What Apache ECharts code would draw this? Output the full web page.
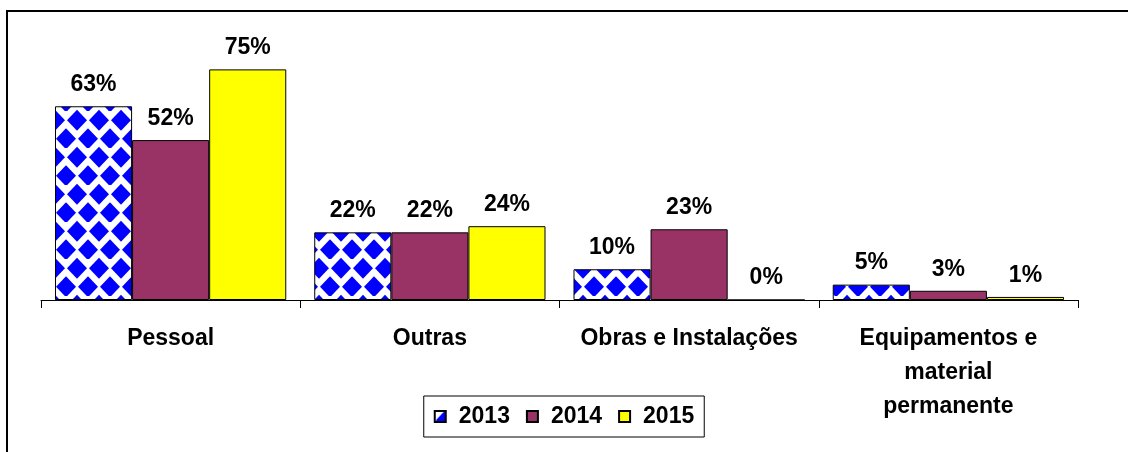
<!DOCTYPE html>
<html>
<head>
<meta charset="utf-8">
<script src="https://cdn.jsdelivr.net/npm/echarts@6/dist/echarts.min.js"></script>
<style>
  html, body { margin: 0; padding: 0; background: #fff; }
  #main { width: 1128px; height: 452px; }
</style>
</head>
<body>
<div id="main"></div>
<script>
var categories = ["Pessoal", "Outras", "Obras e Instalações", "Equipamentos e\nmaterial\npermanente"];
var years = ["2013", "2014", "2015"];
var values2013 = [63, 22, 10, 5];
var values2014 = [52, 22, 23, 3];
var values2015 = [75, 24, 0, 1];

// blue diamonds on white, like the excel fill pattern
function diamondPattern() {
  var c = document.createElement("canvas");
  c.width = 22;
  c.height = 37;
  var ctx = c.getContext("2d");
  ctx.fillStyle = "#ffffff";
  ctx.fillRect(0, 0, 22, 37);
  ctx.fillStyle = "#0000ff";
  var centers = [[11, 9.25], [0, 27.75], [22, 27.75], [11, 46.25], [11, -27.75]];
  centers.forEach(function (p) {
    ctx.beginPath();
    ctx.moveTo(p[0], p[1] - 10.5);
    ctx.lineTo(p[0] + 10, p[1]);
    ctx.lineTo(p[0], p[1] + 10.5);
    ctx.lineTo(p[0] - 10, p[1]);
    ctx.closePath();
    ctx.fill();
  });
  return c;
}

var font = "'Liberation Sans', Arial, sans-serif";
var chart = echarts.init(document.getElementById("main"));

var labelStyle = {
  show: true,
  position: "top",
  distance: 10,
  formatter: "{c}%",
  fontFamily: font,
  fontSize: 23,
  fontWeight: "bold",
  color: "#000"
};

function makeSeries(name, data, color) {
  return {
    name: name,
    type: "bar",
    data: data,
    barGap: "0%",
    barCategoryGap: "10.8%",
    itemStyle: { color: color, borderColor: "#000", borderWidth: 1 },
    label: labelStyle,
    emphasis: { disabled: true }
  };
}

var option = {
  animation: false,
  backgroundColor: "#fff",
  graphic: [
    {
      type: "rect",
      shape: { x: 7, y: 11, width: 1300, height: 600 },
      style: { fill: null, stroke: "#000", lineWidth: 2 },
      silent: true
    }
  ],
  grid: { left: 41, right: 50, top: 54, bottom: 152 },
  legend: {
    left: "center",
    top: 396,
    padding: [9, 10, 9, 10],
    itemGap: 16,
    itemWidth: 11,
    itemHeight: 11,
    icon: "rect",
    borderColor: "#000",
    borderWidth: 1,
    textStyle: {
      fontFamily: font,
      fontSize: 23,
      fontWeight: "bold",
      color: "#000",
      padding: [0, 0, 0, 8]
    },
    data: years
  },
  xAxis: {
    type: "category",
    data: categories,
    axisLine: { show: true, lineStyle: { color: "#000", width: 1 } },
    axisTick: { show: true, length: 8, lineStyle: { color: "#000", width: 1 } },
    axisLabel: {
      interval: 0,
      margin: 22,
      fontFamily: font,
      fontSize: 23,
      fontWeight: "bold",
      color: "#000",
      lineHeight: 34
    }
  },
  yAxis: {
    type: "value",
    min: 0,
    max: 80,
    show: false,
    splitLine: { show: false }
  },
  series: [
    makeSeries(years[0], values2013, { image: diamondPattern(), repeat: "repeat" }),
    makeSeries(years[1], values2014, "#993366"),
    makeSeries(years[2], values2015, "#ffff00")
  ]
};

chart.setOption(option);
</script>
</body>
</html>
